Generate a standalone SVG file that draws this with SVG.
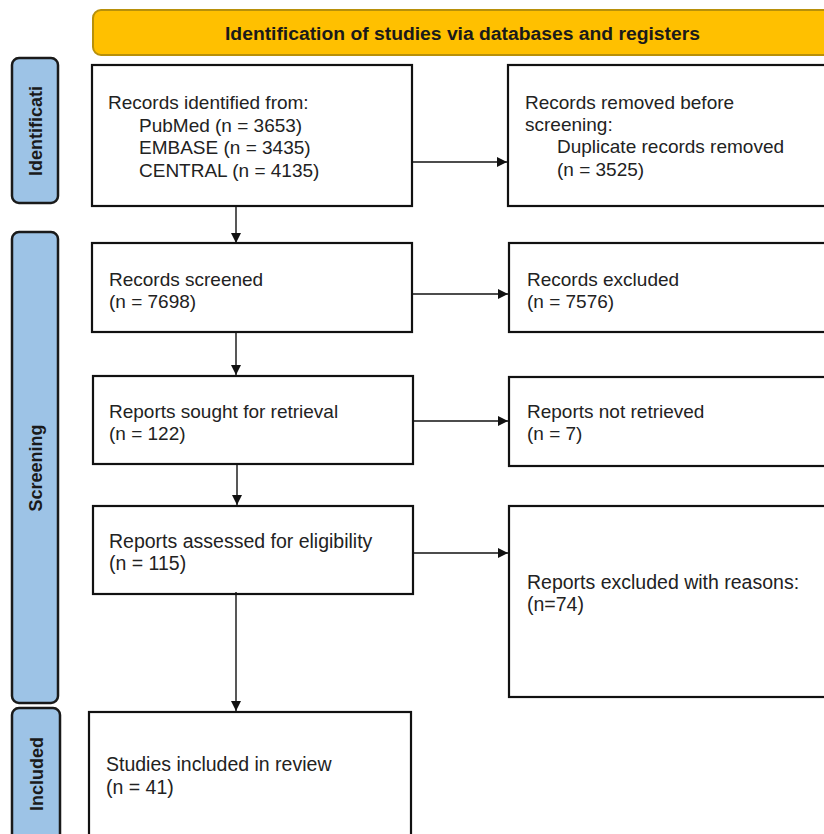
<svg xmlns="http://www.w3.org/2000/svg" width="824" height="834" viewBox="0 0 824 834">
<style>
.box{fill:#fff;stroke:#111;stroke-width:2.2}
.tab{fill:#9dc3e6;stroke:#1a1a1a;stroke-width:2.5}
.t{font-family:"Liberation Sans",Arial,sans-serif;font-size:19px;fill:#222}
.n{font-size:19.5px}
.tb{font-family:"Liberation Sans",Arial,sans-serif;font-size:18px;font-weight:bold;fill:#1a1a1a}
.c{stroke:#111;stroke-width:1.4;fill:none}
</style>
<defs>
<marker id="ah" viewBox="0 0 10 10" refX="10" refY="5" markerWidth="10" markerHeight="10" markerUnits="userSpaceOnUse" orient="auto">
<path d="M0,0 L10,5 L0,10 z" fill="#111"/>
</marker>
</defs>
<rect width="824" height="834" fill="#fff"/>
<g id="banner">
<rect x="93" y="10" width="750" height="45" rx="8" fill="#ffc000" stroke="#b8900a" stroke-width="2"/>
<text class="tb" x="225" y="40" textLength="475" lengthAdjust="spacingAndGlyphs">Identification of studies via databases and registers</text>
</g>
<g id="tab-identification">
<rect class="tab" x="12" y="58" width="46" height="145" rx="7"/>
<text class="tb" transform="translate(42,131) rotate(-90)" text-anchor="middle">Identificati</text>
</g>
<g id="tab-screening">
<rect class="tab" x="12" y="232" width="46" height="471" rx="7"/>
<text class="tb" transform="translate(42,468) rotate(-90)" text-anchor="middle">Screening</text>
</g>
<g id="tab-included">
<rect class="tab" x="12" y="708" width="48" height="140" rx="7"/>
<text class="tb" transform="translate(43,774) rotate(-90)" text-anchor="middle">Included</text>
</g>
<g id="n-identified">
<rect class="box" x="92" y="65" width="320" height="141"/>
<text class="t" x="108" y="109">Records identified from:</text>
<text class="t" x="139" y="132">PubMed (n = 3653)</text>
<text class="t" x="139" y="154">EMBASE (n = 3435)</text>
<text class="t" x="139" y="177">CENTRAL (n = 4135)</text>
</g>
<g id="n-removed">
<rect class="box" x="508" y="65" width="330" height="141"/>
<text class="t" x="525" y="109">Records removed before</text>
<text class="t" x="525" y="131">screening:</text>
<text class="t" x="557" y="153">Duplicate records removed</text>
<text class="t" x="557" y="176">(n = 3525)</text>
</g>
<g id="n-screened">
<rect class="box" x="92" y="243" width="320" height="89"/>
<text class="t" x="109" y="286">Records screened</text>
<text class="t" x="109" y="308">(n = 7698)</text>
</g>
<g id="n-excluded">
<rect class="box" x="509" y="243" width="330" height="89"/>
<text class="t" x="527" y="286">Records excluded</text>
<text class="t" x="527" y="308">(n = 7576)</text>
</g>
<g id="n-sought">
<rect class="box" x="93" y="376" width="320" height="88"/>
<text class="t" x="109" y="418">Reports sought for retrieval</text>
<text class="t" x="109" y="440">(n = 122)</text>
</g>
<g id="n-notretrieved">
<rect class="box" x="509" y="377" width="330" height="89"/>
<text class="t" x="527" y="418">Reports not retrieved</text>
<text class="t" x="527" y="440">(n = 7)</text>
</g>
<g id="n-assessed">
<rect class="box" x="93" y="506" width="320" height="88"/>
<text class="t n" x="109" y="548">Reports assessed for eligibility</text>
<text class="t n" x="109" y="570">(n = 115)</text>
</g>
<g id="n-excluded-reasons">
<rect class="box" x="509" y="506" width="330" height="191"/>
<text class="t n" x="527" y="589">Reports excluded with reasons:</text>
<text class="t n" x="527" y="611">(n=74)</text>
</g>
<g id="n-included">
<rect class="box" x="89" y="712" width="322" height="140"/>
<text class="t n" x="106" y="771">Studies included in review</text>
<text class="t n" x="106" y="794">(n = 41)</text>
</g>
<g id="connectors">
<line class="c" x1="236" y1="206" x2="236" y2="243" marker-end="url(#ah)"/>
<line class="c" x1="236" y1="332" x2="236" y2="375" marker-end="url(#ah)"/>
<line class="c" x1="237" y1="464" x2="237" y2="505" marker-end="url(#ah)"/>
<line class="c" x1="236" y1="592" x2="236" y2="711" marker-end="url(#ah)"/>
<line class="c" x1="412" y1="162" x2="507" y2="162" marker-end="url(#ah)"/>
<line class="c" x1="412" y1="294" x2="508" y2="294" marker-end="url(#ah)"/>
<line class="c" x1="413" y1="421" x2="508" y2="421" marker-end="url(#ah)"/>
<line class="c" x1="413" y1="553" x2="508" y2="553" marker-end="url(#ah)"/>
</g>
</svg>
